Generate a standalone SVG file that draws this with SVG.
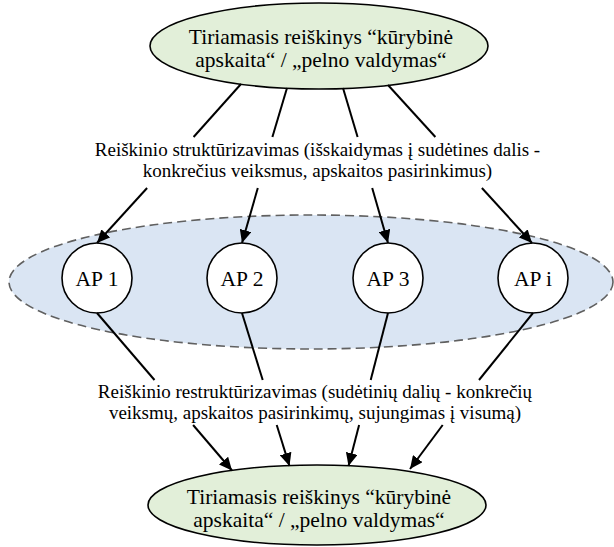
<svg xmlns="http://www.w3.org/2000/svg" width="614" height="547" viewBox="0 0 614 547">
<style>
  .t { font-family: "Liberation Serif", "Times New Roman", serif; fill: #000; }
  .big { font-size: 21.5px; }
  .mid { font-size: 19px; }
  .green { fill: #e2efd9; stroke: #000; stroke-width: 1.6; }
  .ap { fill: #fff; stroke: #000; stroke-width: 1.6; }
  .edge { stroke: #000; stroke-width: 2; fill: none; }
</style>
<defs>
  <marker id="arr" markerUnits="userSpaceOnUse" markerWidth="14" markerHeight="12" refX="13" refY="6" orient="auto">
    <path d="M0,0 L13,6 L0,12 Z" fill="#000"/>
  </marker>
</defs>
<rect width="614" height="547" fill="#fff"/>
<g id="group-ellipse">
  <ellipse cx="311" cy="282" rx="302" ry="67" fill="#dae5f3" stroke="#606060" stroke-width="1.6" stroke-dasharray="9 5"/>
</g>
<g id="top">
  <ellipse class="green" cx="319" cy="46" rx="169" ry="43"/>
  <text class="t big" x="321" y="43.5" text-anchor="middle">Tiriamasis reiškinys “kūrybinė</text>
  <text class="t big" x="321" y="67" text-anchor="middle">apskaita“ / „pelno valdymas“</text>
</g>
<g id="bottom">
  <ellipse class="green" cx="317" cy="505" rx="169" ry="40"/>
  <text class="t big" x="319" y="503.5" text-anchor="middle">Tiriamasis reiškinys “kūrybinė</text>
  <text class="t big" x="319" y="526.5" text-anchor="middle">apskaita“ / „pelno valdymas“</text>
</g>
<g id="ap1"><circle class="ap" cx="97" cy="278" r="35"/><text class="t big" x="97" y="286" text-anchor="middle">AP 1</text></g>
<g id="ap2"><circle class="ap" cx="242" cy="278" r="35"/><text class="t big" x="242" y="286" text-anchor="middle">AP 2</text></g>
<g id="ap3"><circle class="ap" cx="388" cy="278" r="35"/><text class="t big" x="388" y="286" text-anchor="middle">AP 3</text></g>
<g id="api"><circle class="ap" cx="533" cy="278" r="35"/><text class="t big" x="533" y="286" text-anchor="middle">AP i</text></g>
<g id="label-struct">
  <text class="t mid" x="317.5" y="156" text-anchor="middle">Reiškinio struktūrizavimas (išskaidymas į sudėtines dalis -</text>
  <text class="t mid" x="317.5" y="177" text-anchor="middle">konkrečius veiksmus, apskaitos pasirinkimus)</text>
</g>
<g id="label-restruct">
  <text class="t mid" x="315" y="398" text-anchor="middle">Reiškinio restruktūrizavimas (sudėtinių dalių - konkrečių</text>
  <text class="t mid" x="315" y="419" text-anchor="middle">veiksmų, apskaitos pasirinkimų, sujungimas į visumą)</text>
</g>
<g id="connectors">
  <line class="edge" x1="241" y1="84" x2="193.6" y2="137"/>
  <line class="edge" x1="147.1" y1="188" x2="97" y2="243" marker-end="url(#arr)"/>
  <line class="edge" x1="287" y1="88" x2="272.4" y2="137"/>
  <line class="edge" x1="257.8" y1="188" x2="242" y2="243" marker-end="url(#arr)"/>
  <line class="edge" x1="343" y1="88" x2="357.6" y2="137"/>
  <line class="edge" x1="372.2" y1="188" x2="388" y2="243" marker-end="url(#arr)"/>
  <line class="edge" x1="388" y1="85" x2="435.4" y2="137"/>
  <line class="edge" x1="481.9" y1="188" x2="532" y2="243" marker-end="url(#arr)"/>

  <line class="edge" x1="97" y1="313" x2="154.5" y2="380"/>
  <line class="edge" x1="193.1" y1="425" x2="232" y2="470.5" marker-end="url(#arr)"/>
  <line class="edge" x1="242" y1="313" x2="262.7" y2="380"/>
  <line class="edge" x1="276.7" y1="425" x2="289.5" y2="466" marker-end="url(#arr)"/>
  <line class="edge" x1="388" y1="313" x2="370.7" y2="380"/>
  <line class="edge" x1="359.1" y1="425" x2="348.5" y2="466" marker-end="url(#arr)"/>
  <line class="edge" x1="533" y1="313" x2="479" y2="380"/>
  <line class="edge" x1="442.7" y1="425" x2="410" y2="469" marker-end="url(#arr)"/>
</g>
</svg>
